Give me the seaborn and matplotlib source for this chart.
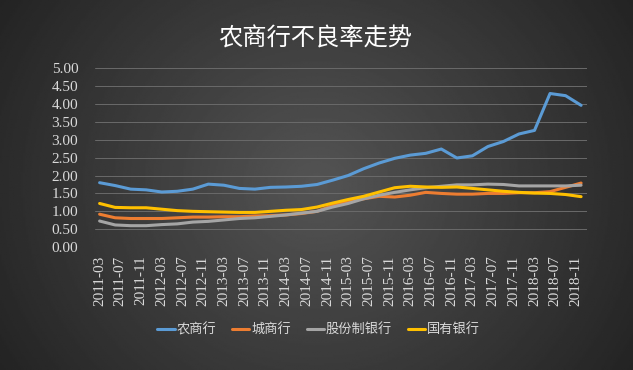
import numpy as np
import pandas as pd
import matplotlib
matplotlib.use("Agg")
import matplotlib.pyplot as plt
import seaborn as sns

# quarterly data, 2011-03 .. 2018-12
quarters = [f"{y}-{m:02d}" for y in range(2011, 2019) for m in (3, 6, 9, 12)]
rural = [1.80, 1.72, 1.62, 1.60,
         1.54, 1.56, 1.62, 1.76,
         1.73, 1.64, 1.62, 1.67,
         1.68, 1.70, 1.75, 1.87,
         2.00, 2.19, 2.35, 2.48,
         2.57, 2.62, 2.74, 2.49,
         2.55, 2.81, 2.95, 3.16,
         3.26, 4.29, 4.23, 3.96]
city = [0.92, 0.82, 0.80, 0.80,
        0.80, 0.82, 0.84, 0.84,
        0.85, 0.85, 0.87, 0.88,
        0.90, 0.94, 1.00, 1.16,
        1.28, 1.35, 1.42, 1.40,
        1.45, 1.53, 1.50, 1.48,
        1.48, 1.50, 1.50, 1.52,
        1.52, 1.55, 1.67, 1.79]
joint = [0.73, 0.62, 0.60, 0.60,
         0.63, 0.65, 0.70, 0.72,
         0.76, 0.80, 0.82, 0.86,
         0.90, 0.95, 1.00, 1.12,
         1.22, 1.35, 1.45, 1.53,
         1.60, 1.66, 1.70, 1.74,
         1.74, 1.76, 1.75, 1.71,
         1.71, 1.71, 1.71, 1.73]
state = [1.22, 1.11, 1.10, 1.10,
         1.06, 1.02, 1.00, 0.99,
         0.98, 0.97, 0.97, 1.00,
         1.03, 1.05, 1.12, 1.23,
         1.33, 1.42, 1.54, 1.66,
         1.70, 1.68, 1.67, 1.68,
         1.64, 1.60, 1.56, 1.53,
         1.51, 1.50, 1.47, 1.41]
series_names = ["农商行", "城商行", "股份制银行", "国有银行"]
tick_labels = ["2011-03", "2011-07", "2011-11", "2012-03", "2012-07", "2012-11",
               "2013-03", "2013-07", "2013-11", "2014-03", "2014-07", "2014-11",
               "2015-03", "2015-07", "2015-11", "2016-03", "2016-07", "2016-11",
               "2017-03", "2017-07", "2017-11", "2018-03", "2018-07", "2018-11"]
y_ticks = [0.0, 0.5, 1.0, 1.5, 2.0, 2.5, 3.0, 3.5, 4.0, 4.5, 5.0]
title = "农商行不良率走势"

def month_index(q):
    y, m = q.split("-")
    return (int(y) - 2011) * 12 + int(m) - 3

rows = []
for name, vals in zip(series_names, [rural, city, joint, state]):
    for q, v in zip(quarters, vals):
        rows.append({"t": month_index(q), "v": v, "s": name})
df = pd.DataFrame(rows)

sns.set_theme(style="dark")
plt.rcParams['font.family'] = ['Noto Sans CJK SC', 'DejaVu Sans']

fig = plt.figure(figsize=(6.33, 3.70), dpi=100)
# background gradient
bg = fig.add_axes([0, 0, 1, 1], zorder=0)
xx = np.linspace(-1, 1, 400)
yy = np.linspace(-1, 1, 240)
X, Y = np.meshgrid(xx, yy)
R = np.sqrt((X * 0.95) ** 2 + (Y * 0.6) ** 2)
img = 0.33 - 0.17 * R
img = np.clip(img, 0.14, 0.4)
bg.imshow(img, cmap="gray", vmin=0, vmax=1, aspect="auto", extent=[0, 1, 0, 1])
bg.set_axis_off()

ax = fig.add_axes([0.150, 0.332, 0.777, 0.484], zorder=1)
ax.patch.set_alpha(0)
palette = {"农商行": "#5b9bd5", "城商行": "#ed7d31", "股份制银行": "#a5a5a5", "国有银行": "#ffc000"}
sns.lineplot(data=df, x="t", y="v", hue="s", hue_order=series_names, palette=palette,
             linewidth=2.2, ax=ax, legend=True)

ax.set_ylim(0, 5)
ax.set_xlim(-0.9, 94.1)
ax.set_yticks(y_ticks)
ax.set_yticklabels([f"{v:.2f}" for v in y_ticks])
ax.set_xticks(np.arange(0, 93, 4))
ax.set_xticklabels(tick_labels, rotation=90)
for lab in ax.get_xticklabels() + ax.get_yticklabels():
    lab.set_fontfamily("Liberation Serif")
    lab.set_fontsize(11)
    lab.set_color("#d9d9d9")
ax.tick_params(axis="y", length=0, pad=12)
ax.tick_params(axis="x", length=0, pad=6)
ax.grid(axis="y", color="#6a6a6a", linewidth=0.7)
ax.grid(axis="x", visible=False)
ax.set_xlabel("")
ax.set_ylabel("")
for sp in ax.spines.values():
    sp.set_visible(False)

leg = ax.legend(loc="center", bbox_to_anchor=(0.455, -0.46), ncol=4, frameon=False,
                prop={"family": ["Noto Sans CJK SC", "DejaVu Sans"], "size": 9.5},
                handlelength=1.3, handletextpad=0.15, columnspacing=1.2)
for t in leg.get_texts():
    t.set_color("#d9d9d9")

fig.text(0.498, 0.897, title, ha="center", va="center", fontsize=17.5, color="white")

fig.savefig("out.png", dpi=100)
